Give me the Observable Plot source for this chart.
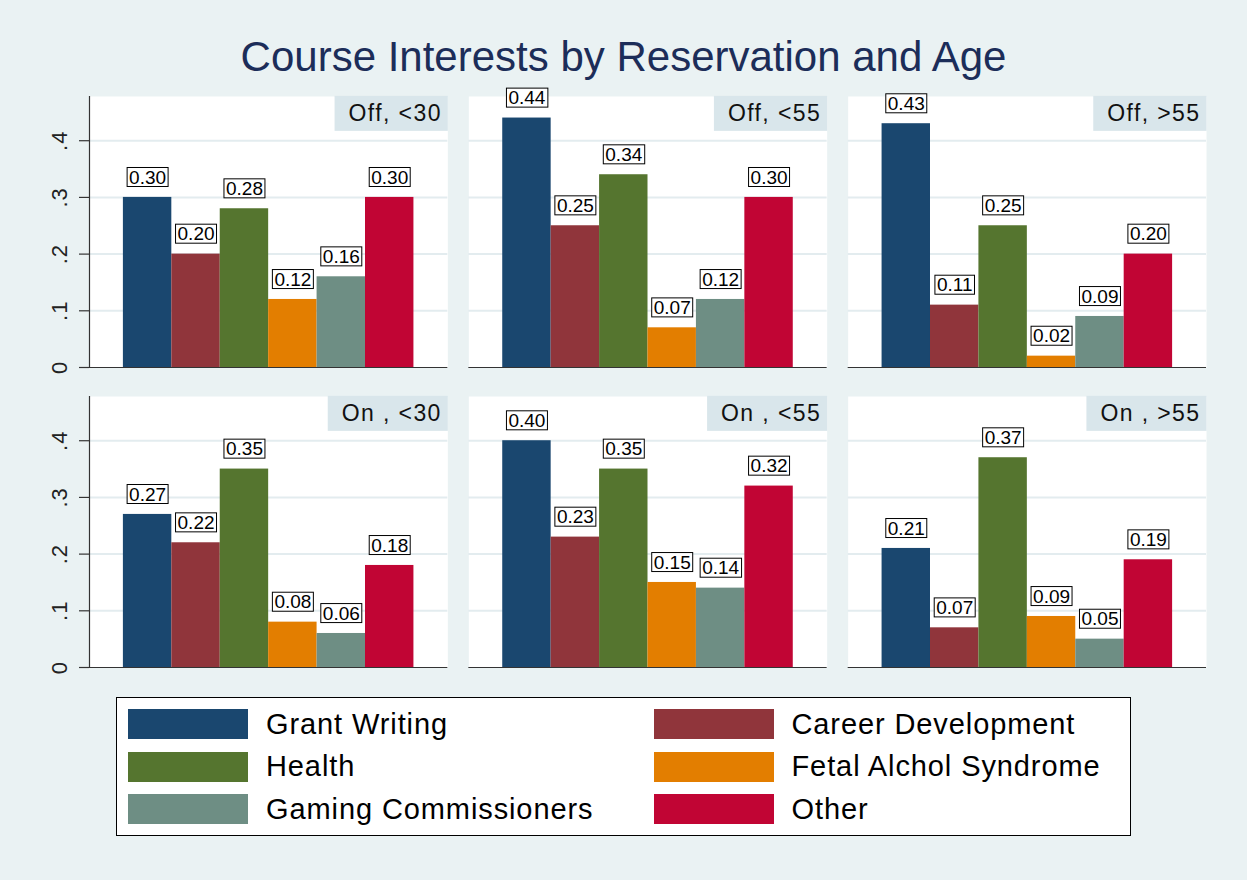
<!DOCTYPE html>
<html>
<head>
<meta charset="utf-8">
<script src="https://cdn.jsdelivr.net/npm/d3@7"></script>
<script src="https://cdn.jsdelivr.net/npm/@observablehq/plot@0.6"></script>
<style>
  html, body { margin: 0; padding: 0; background: #eaf2f3; }
  #root { position: relative; width: 1247px; height: 880px; background: #eaf2f3; font-family: "Liberation Sans", Arial, sans-serif; overflow: hidden; }
  #title { position: absolute; left: 0; width: 1247px; top: 36px; text-align: center; font-size: 42px; line-height: 1; color: #1c2d59; }
  #chart { position: absolute; left: 0; top: 80px; }
  #legend { position: absolute; left: 116px; top: 697px; width: 1013px; height: 137px; background: #fff; border: 1.5px solid #000; }
  .item { position: absolute; display: flex; align-items: center; height: 30px; }
  .sw { width: 120px; height: 30px; }
  .lab { margin-left: 18px; font-size: 29px; letter-spacing: 0.9px; color: #000; line-height: 1; white-space: nowrap; }
</style>
</head>
<body>
<div id="root">
  <div id="title">Course Interests by Reservation and Age</div>
  <div id="chart"></div>
  <div id="legend"></div>
</div>
<script>
// ---- Data ----
const categories = ["Grant Writing", "Career Development", "Health", "Fetal Alchol Syndrome", "Gaming Commissioners", "Other"];
const colors = ["#1a476f", "#90353b", "#55752f", "#e37e00", "#6e8e84", "#c10534"];
const reservations = ["Off", "On"];
const ages = ["<30", "<55", ">55"];
const panelLabels = ["Off, <30", "Off, <55", "Off, >55", "On , <30", "On , <55", "On , >55"];
const yTicks = [0, 0.1, 0.2, 0.3, 0.4];

const offUnder30 = [0.30, 0.20, 0.28, 0.12, 0.16, 0.30];
const offUnder55 = [0.44, 0.25, 0.34, 0.07, 0.12, 0.30];
const offOver55  = [0.43, 0.11, 0.25, 0.02, 0.09, 0.20];
const onUnder30  = [0.27, 0.22, 0.35, 0.08, 0.06, 0.18];
const onUnder55  = [0.40, 0.23, 0.35, 0.15, 0.14, 0.32];
const onOver55   = [0.21, 0.07, 0.37, 0.09, 0.05, 0.19];

const seriesByPanel = [offUnder30, offUnder55, offOver55, onUnder30, onUnder55, onOver55];

// ---- Build tables ----
const rows = [];
const panels = [];
seriesByPanel.forEach((vals, p) => {
  const res = reservations[Math.floor(p / 3)];
  const age = ages[p % 3];
  panels.push({res, age, label: panelLabels[p]});
  vals.forEach((v, i) => rows.push({res, age, cat: categories[i], value: v}));
});

const FONT = '"Liberation Sans", Arial, sans-serif';

const plot = Plot.plot({
  width: 1247,
  height: 600,
  marginLeft: 89,
  marginRight: 41,
  marginTop: 16,
  marginBottom: 13,
  style: {fontFamily: FONT, background: "transparent", overflow: "visible"},
  fx: {domain: ages, paddingInner: 0.0554, paddingOuter: 0, axis: null, label: null, round: false},
  fy: {domain: reservations, paddingInner: 0.0967, paddingOuter: 0, axis: null, label: null, round: false},
  x: {domain: categories, paddingInner: 0, paddingOuter: 0.7, axis: null, round: false},
  y: {domain: [0, 0.478], axis: null},
  color: {domain: categories, range: colors},
  marks: [
    Plot.frame({fill: "white", stroke: null}),
    Plot.gridY([0.1, 0.2, 0.3, 0.4], {stroke: "#e3ecef", strokeOpacity: 1, strokeWidth: 2}),
    Plot.barY(rows, {fx: "age", fy: "res", x: "cat", y: "value", fill: "cat"}),
    Plot.ruleY([0], {stroke: "#333", strokeWidth: 1.2}),
    Plot.frame({anchor: "left", facetAnchor: "left", stroke: "#333", strokeWidth: 1.2}),
    // tick marks
    Plot.axisY({
      anchor: "left", ticks: yTicks, tickSize: 10, tickFormat: () => "",
      label: null, stroke: "#333", strokeWidth: 1.2
    }),
    // rotated tick labels
    Plot.axisY({
      anchor: "left", ticks: yTicks, tickSize: 0, tickPadding: 23, label: null,
      tickFormat: d => d === 0 ? "0" : d3.format(".1f")(d).replace(/^0/, ""),
      rotate: -90, textAnchor: "middle", lineAnchor: "bottom",
      fontSize: 22, fill: "#222"
    }),
    Plot.text(rows, {
      fx: "age", fy: "res", x: "cat", y: "value",
      text: d => d3.format(".2f")(d.value),
      dy: -20, lineAnchor: "middle", fontSize: 19, fill: "#000",
      className: "vlabel"
    }),
    Plot.text(panels, {
      fx: "age", fy: "res", text: "label",
      frameAnchor: "top-right", dx: -6, dy: 17.5,
      textAnchor: "end", lineAnchor: "middle",
      fontSize: 23, fill: "#111", className: "plabel"
    })
  ]
});

document.getElementById("chart").append(plot);

// slightly wider y tick labels, like the reference
plot.querySelectorAll('g[aria-label="y-axis tick label"] text').forEach(t => { t.style.letterSpacing = "1px"; });

const NS = "http://www.w3.org/2000/svg";
function textsOf(cls, fallbackIndex) {
  let list = plot.querySelectorAll(`g.${cls} text`);
  if (!list.length) {
    const groups = [...plot.querySelectorAll('g[aria-label="text"]')];
    if (groups[fallbackIndex]) list = groups[fallbackIndex].querySelectorAll("text");
  }
  return [...list];
}

// Boxed value labels
textsOf("vlabel", 0).forEach(t => {
  const b = t.getBBox();
  const r = document.createElementNS(NS, "rect");
  const cy = b.y + b.height / 2;
  r.setAttribute("x", b.x - 2);
  r.setAttribute("y", cy - 9.5);
  r.setAttribute("width", b.width + 4);
  r.setAttribute("height", 19);
  r.setAttribute("fill", "#fff");
  r.setAttribute("stroke", "#000");
  r.setAttribute("stroke-width", 1);
  if (t.getAttribute("transform")) r.setAttribute("transform", t.getAttribute("transform"));
  t.parentNode.insertBefore(r, t);
});

// Panel label boxes
textsOf("plabel", 1).forEach(t => {
  t.style.letterSpacing = "1.4px";
  const b = t.getBBox();
  const r = document.createElementNS(NS, "rect");
  const cy = b.y + b.height / 2;
  r.setAttribute("x", b.x - 14);
  r.setAttribute("y", cy - 17.5);
  r.setAttribute("width", b.width + 20);
  r.setAttribute("height", 35);
  r.setAttribute("fill", "#d9e6eb");
  if (t.getAttribute("transform")) r.setAttribute("transform", t.getAttribute("transform"));
  t.parentNode.insertBefore(r, t);
});

// ---- Legend (built from categories / colors) ----
const legend = document.getElementById("legend");
const colLeft = [11, 536.5];
const rowTop = [11, 53.5, 96];
categories.forEach((c, i) => {
  const item = document.createElement("div");
  item.className = "item";
  item.style.left = colLeft[i % 2] + "px";
  item.style.top = rowTop[Math.floor(i / 2)] + "px";
  const sw = document.createElement("div");
  sw.className = "sw";
  sw.style.background = colors[i];
  const lab = document.createElement("span");
  lab.className = "lab";
  lab.textContent = c;
  item.append(sw, lab);
  legend.append(item);
});
</script>
</body>
</html>
